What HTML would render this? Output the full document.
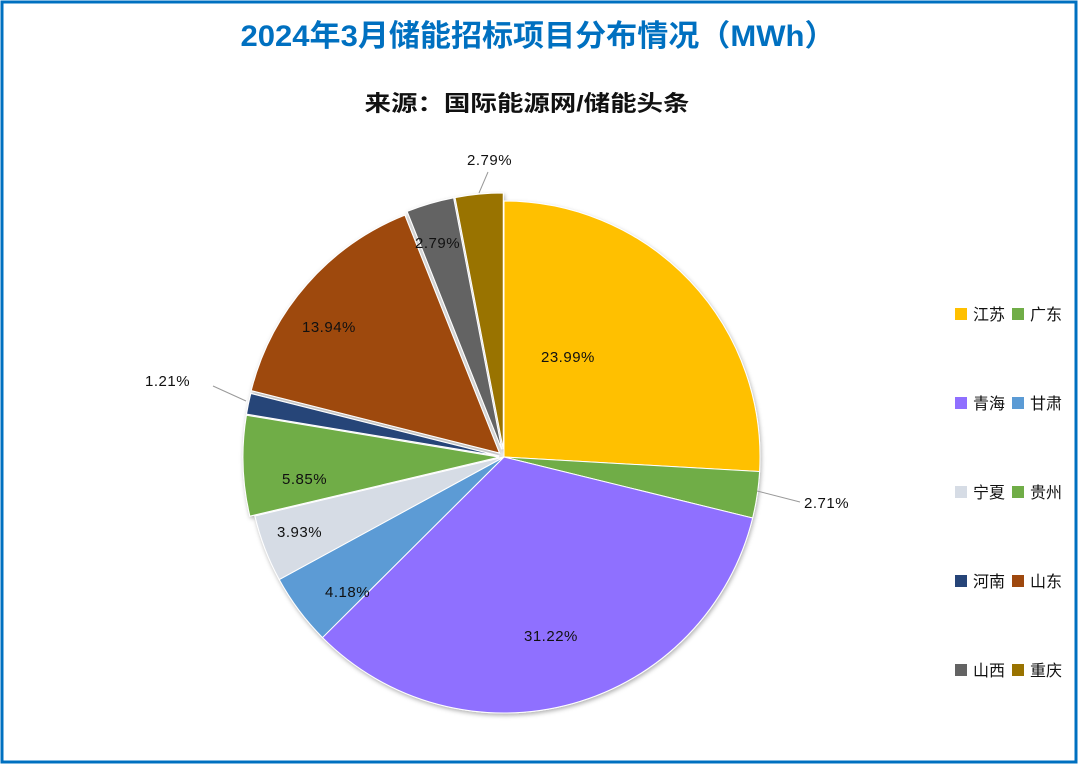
<!DOCTYPE html>
<html><head><meta charset="utf-8"><style>
html,body{margin:0;padding:0;background:#fff;}
#w{position:relative;width:1080px;height:767px;overflow:hidden;font-family:"Liberation Sans","Noto Sans CJK SC",sans-serif;}
</style></head><body><div id="w">
<svg width="1080" height="767" xmlns="http://www.w3.org/2000/svg">
<defs><filter id="sh" x="-10%" y="-10%" width="120%" height="120%"><feDropShadow dx="1" dy="2" stdDeviation="2" flood-color="#000" flood-opacity="0.3"/></filter></defs>
<rect x="2" y="2" width="1074" height="760" fill="#fff" stroke="#0070C0" stroke-width="3"/>
<text x="538" y="46" text-anchor="middle" font-size="30" font-weight="bold" fill="#0070C0" textLength="595" lengthAdjust="spacingAndGlyphs" font-family="Liberation Sans,Noto Sans CJK SC,sans-serif">2024年3月储能招标项目分布情况（MWh）</text>
<text x="527" y="111" text-anchor="middle" font-size="22" font-weight="bold" fill="#111" textLength="325" lengthAdjust="spacingAndGlyphs" font-family="Liberation Sans,Noto Sans CJK SC,sans-serif">来源：国际能源网/储能头条</text>
<g id="pie" filter="url(#sh)"></g>
<g stroke="#999" stroke-width="1" fill="none">
<line x1="213" y1="386" x2="246" y2="401"/>
<line x1="757" y1="491" x2="800" y2="502"/>
<line x1="488" y1="172" x2="479" y2="193"/>
</g>
<g font-size="15" fill="#111" letter-spacing="0.5" font-family="Liberation Sans,sans-serif">
<text x="541" y="362">23.99%</text>
<text x="804" y="508">2.71%</text>
<text x="524" y="641">31.22%</text>
<text x="325" y="597">4.18%</text>
<text x="277" y="537">3.93%</text>
<text x="282" y="484">5.85%</text>
<text x="145" y="386">1.21%</text>
<text x="302" y="332">13.94%</text>
<text x="415" y="248">2.79%</text>
<text x="467" y="165">2.79%</text>
</g>
<g font-size="16" fill="#111" font-family="Liberation Sans,Noto Sans CJK SC,sans-serif">
<rect x="955" y="308" width="12" height="12" fill="#FFC000"/><text x="973" y="320">江苏</text>
<rect x="1012" y="308" width="12" height="12" fill="#70AD47"/><text x="1030" y="320">广东</text>
<rect x="955" y="397" width="12" height="12" fill="#8F6FFF"/><text x="973" y="409">青海</text>
<rect x="1012" y="397" width="12" height="12" fill="#5B9BD5"/><text x="1030" y="409">甘肃</text>
<rect x="955" y="486" width="12" height="12" fill="#D6DCE5"/><text x="973" y="498">宁夏</text>
<rect x="1012" y="486" width="12" height="12" fill="#70AD47"/><text x="1030" y="498">贵州</text>
<rect x="955" y="575" width="12" height="12" fill="#264478"/><text x="973" y="587">河南</text>
<rect x="1012" y="575" width="12" height="12" fill="#9E480E"/><text x="1030" y="587">山东</text>
<rect x="955" y="664" width="12" height="12" fill="#636363"/><text x="973" y="676">山西</text>
<rect x="1012" y="664" width="12" height="12" fill="#997300"/><text x="1030" y="676">重庆</text>
</g>
</svg>
<script>
var d=[[23.99,"#FFC000",0],[2.71,"#70AD47",0],[31.22,"#8F6FFF",0],[4.18,"#5B9BD5",0],[3.93,"#D6DCE5",0],[5.85,"#70AD47",5],[1.21,"#264478",5],[13.94,"#9E480E",6],[2.79,"#636363",8],[2.79,"#997300",8]];
var tot=0;d.forEach(function(a){tot+=a[0];});
var cx=504,cy=457,r=256,a0=0,s="";
function pt(x,y,a,rr){return [x+rr*Math.sin(a),y-rr*Math.cos(a)];}
d.forEach(function(e){var a1=a0+e[0]/tot*2*Math.PI,m=(a0+a1)/2;
var ox=cx+e[2]*Math.sin(m),oy=cy-e[2]*Math.cos(m);
var p=pt(ox,oy,a0,r),q=pt(ox,oy,a1,r);
s+='<path d="M'+ox+' '+oy+'L'+p[0]+' '+p[1]+'A'+r+' '+r+' 0 '+((a1-a0)>Math.PI?1:0)+' 1 '+q[0]+' '+q[1]+'Z" fill="'+e[1]+'" stroke="#fff" stroke-width="1"/>';
a0=a1;});
document.getElementById("pie").innerHTML=s;
</script>
</div></body></html>
